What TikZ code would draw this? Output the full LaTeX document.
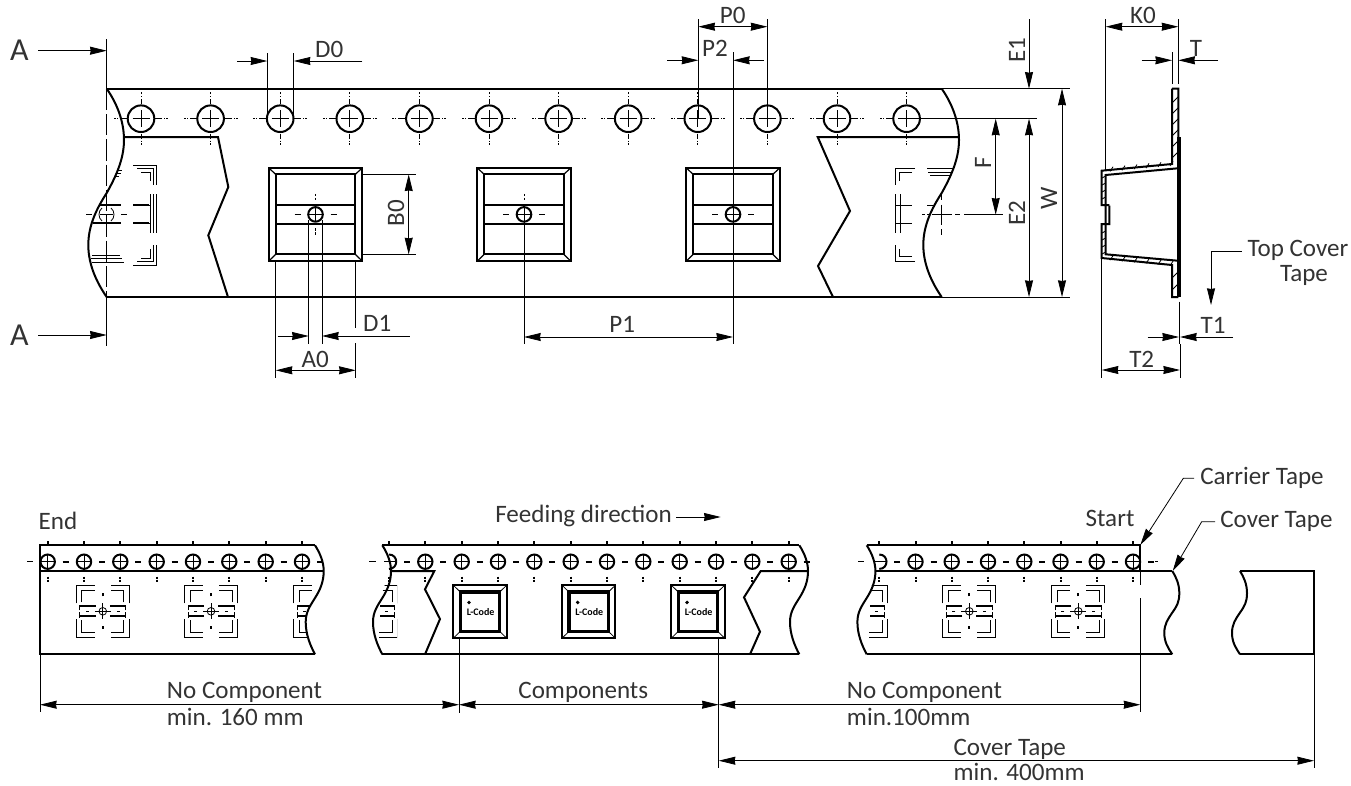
\documentclass[tikz,border=0pt]{standalone}
\usepackage{fontspec}
\usepackage{tikz}
\usetikzlibrary{arrows.meta}
\setmainfont{Carlito}
\def\largeur{1351}
\def\hauteur{785}
\tikzset{
  thinline/.style={line width=0.6pt, black},
  thickline/.style={line width=1.5pt, black},
  dimline/.style={line width=0.6pt, black, {Stealth[length=12.5pt, width=6pt, inset=0.5pt]}-{Stealth[length=12.5pt, width=6pt, inset=0.5pt]}},
  dimtip/.style={line width=0.6pt, black, -{Stealth[length=12.5pt, width=6pt, inset=0.5pt]}},
  tapelabel/.style={font=\fontsize{18.8}{20}\selectfont, text=black!80, inner sep=0pt},
  biglabel/.style={font=\fontsize{24}{26}\selectfont, text=black!80, inner sep=0pt},
}
% Perforation of the upper view.
\newcommand{\tapehole}[2]{
  \draw[thickline] (#1,#2) circle (13.3);
  \draw[thinline] (#1-8.5,#2) -- (#1+8.5,#2) (#1,#2-8.5) -- (#1,#2+8.5);
  \foreach \s in {-1,1} {
    \draw[thinline] (#1+\s*14,#2) -- (#1+\s*21,#2) (#1+\s*23,#2) -- (#1+\s*24,#2) (#1+\s*25,#2) -- (#1+\s*27,#2);
    \draw[thinline] (#1,#2+\s*15) -- (#1,#2+\s*20) (#1,#2+\s*22) -- (#1,#2+\s*23) (#1,#2+\s*24.5) -- (#1,#2+\s*26.5);
  }
}
% Perforation of the lower view.
\newcommand{\smallhole}[2]{
  \draw[thickline] (#1,#2) circle (7.2);
  \draw[thinline] (#1-7.2,#2) -- (#1+7.2,#2) (#1,#2-7.2) -- (#1,#2+7.2);
  \draw[thickline] (#1+15,#2) -- (#1+21,#2);
  \draw[thickline] (#1,#2-20.5) -- (#1,#2-17.5) (#1,#2+15) -- (#1,#2+17) (#1,#2+18) -- (#1,#2+20);
}
% Perforation cut by a torn edge.
\newcommand{\cuthole}[2]{
  \draw[thickline] (#1,#2-7.2) .. controls (#1+9.6,#2-7.2) and (#1+9.6,#2+7.2) .. (#1,#2+7.2);
  \draw[thickline] (#1+15,#2) -- (#1+21,#2);
  \draw[thickline] (#1,#2-20.5) -- (#1,#2-17.5) (#1,#2+15) -- (#1,#2+17) (#1,#2+18) -- (#1,#2+20);
}
% Empty pocket of the upper view.
\newcommand{\pocket}[2]{
  \draw[thickline] (#1-46.8,#2-46.6) rectangle (#1+46.8,#2+46.7);
  \draw[thickline] (#1-39.8,#2-40) rectangle (#1+39.8,#2+40);
  \draw[thinline, line width=0.9pt] (#1-46.8,#2-46.6) -- (#1-39.8,#2-40) (#1+46.8,#2-46.6) -- (#1+39.8,#2-40)
    (#1-46.8,#2+46.7) -- (#1-39.8,#2+40) (#1+46.8,#2+46.7) -- (#1+39.8,#2+40);
  \draw[thickline] (#1-39.8,#2-9.5) -- (#1+39.8,#2-9.5) (#1-39.8,#2+9.5) -- (#1+39.8,#2+9.5);
  \draw[thickline] (#1,#2) circle (7.3);
  \draw[thinline] (#1-7.3,#2) -- (#1+7.3,#2) (#1,#2-7.3) -- (#1,#2+7.3);
  \draw[thinline] (#1-21,#2) -- (#1-15,#2) (#1+15,#2) -- (#1+21,#2);
  \draw[thinline] (#1,#2-20.5) -- (#1,#2-18) (#1,#2-16.5) -- (#1,#2-14) (#1,#2+14) -- (#1,#2+16.5) (#1,#2+18) -- (#1,#2+20.5);
}
% Hidden pocket of the lower view.
\newcommand{\ghostpocket}[2]{
  \foreach \s in {-1,1} {
    \foreach \t in {-1,1} {
      \draw[thinline] (#1+\s*26.5,#2+\t*8) -- (#1+\s*26.5,#2+\t*26.3) -- (#1+\s*8,#2+\t*26.3);
      \draw[thinline] (#1+\s*21,#2+\t*9) -- (#1+\s*21,#2+\t*21) -- (#1+\s*8,#2+\t*21);
      \draw[thickline] (#1+\s*7,#2+\t*5) -- (#1+\s*23,#2+\t*5);
      \draw[thinline] (#1+\s*23,#2+\t*1) -- (#1+\s*23,#2+\t*6.5);
    }
    \draw[thinline] (#1+\s*14,#2) -- (#1+\s*17,#2);
    \draw[thickline] (#1,#2+\s*15) -- (#1,#2+\s*18);
  }
  \draw[thinline] (#1,#2) circle (3.8);
  \draw[thinline] (#1-8,#2) -- (#1+8,#2) (#1,#2-8) -- (#1,#2+8);
}
% Filled pocket of the lower view.
\newcommand{\chip}[2]{
  \draw[thickline] (#1-26.7,#2-26.5) rectangle (#1+26.7,#2+26.5);
  \draw[line width=2.6pt, black] (#1-19.7,#2-19.7) rectangle (#1+19.7,#2+19.7);
  \draw[thinline] (#1-26.7,#2-26.5) -- (#1-19.7,#2-19.7) (#1+26.7,#2-26.5) -- (#1+19.7,#2-19.7)
    (#1-26.7,#2+26.5) -- (#1-19.7,#2+19.7) (#1+26.7,#2+26.5) -- (#1+19.7,#2+19.7);
  \fill[black] (#1-11,#2-9.3) circle (1.9);
  \draw[black] (#1-13.5,#2) node[anchor=west, font=\fontsize{7.5}{7.5}\selectfont\bfseries, inner sep=0pt] (code#1) {L-Code};
}
% Torn edges.
\newcommand{\bigtear}[1]{
  \draw[thickline, shift={(#1,0)}] (106.7,88.7) .. controls (116,102) and (124,120) .. (124,140)
    .. controls (124,160) and (115,178) .. (106.7,193) .. controls (97,208) and (88.3,225) .. (88.3,245)
    .. controls (88.3,265) and (97,283) .. (106.7,297);
}
\newcommand{\smalltear}[1]{
  \draw[thickline, shift={(#1,0)}] (315,545.3) .. controls (320,553) and (323.7,562) .. (323.7,571)
    .. controls (323.7,582) and (320,590) .. (315,598) .. controls (310,606) and (305.7,612) .. (305.7,622)
    .. controls (305.7,634) and (310,645) .. (315,654.3);
}
\newcommand{\shorttear}[1]{
  \draw[thickline, shift={(#1,0)}] (1172.3,571) .. controls (1176,577) and (1179.3,584) .. (1179.3,593)
    .. controls (1179.3,602) and (1177,606) .. (1172,613) .. controls (1168,619) and (1164.3,624) .. (1164.3,633)
    .. controls (1164.3,642) and (1168,648) .. (1172.3,654.3);
}
\begin{document}
\begin{tikzpicture}[x=0.75pt, y=-0.75pt]
    \useasboundingbox (0,0) rectangle (\largeur,\hauteur);
    % Upper view: tape.
    \draw[thickline] (106.7,88.7) -- (941.7,88.7);
    \draw[thickline] (106.7,297) -- (941.7,297);
    \draw[thinline] (941.7,88.7) -- (1070,88.7) (941.7,297) -- (1070,297);
    \draw[thickline] (124,137) -- (218,137) -- (228.3,187) -- (208.3,235.3) -- (228,297);
    \draw[thickline] (958,137) -- (817.7,137) -- (850,211) -- (818,266) -- (833,297);
    \bigtear{0}
    \bigtear{835}
    \draw[thinline, dash pattern=on 16pt off 3pt] (106.7,88.7) -- (106.7,297);
    % Upper view: holes and pockets.
    \foreach \holex in {141,210.6,280.2,349.8,419.4,489,558.6,628.2,697.8,767.4,837,906.6} {
      \tapehole{\holex}{118.7}
    }
    \pocket{315.5}{214.4}
    \pocket{524}{214.4}
    \pocket{733}{214.4}
    % Upper view: hidden pocket on the left.
    \draw[thinline] (133,165) -- (156.7,165) -- (156.7,185) (137,168.5) -- (153.5,168.5) -- (153.5,185) (141,172) -- (150,172) -- (150,181);
    \draw[thinline] (156.7,194) -- (156.7,233) (153.5,194) -- (153.5,233) (150,194) -- (150,233) (133,205) -- (150,205) (133,223) -- (150,223);
    \draw[thickline] (133,205) -- (149,205) (133,223) -- (149,223);
    \draw[thinline] (133,265) -- (156.7,265) -- (156.7,245) (137,261.5) -- (153.5,261.5) -- (153.5,245) (141,258) -- (150,258) -- (150,249);
    \draw[thickline] (100,205) -- (121,205) (93,223) -- (121,223);
    \draw[thinline] (92,255) -- (120,255) (91,258.5) -- (122,258.5) (92,262) -- (124,262);
    \draw[thinline] (118,170) -- (122,170) (117,173) -- (121,173) (115,176) -- (119,176);
    \draw[thinline] (102,208) .. controls (98,211) and (98,218) .. (102,221);
    \draw[thinline] (111,208) .. controls (115,211) and (115,218) .. (111,221);
    \draw[thinline] (86,214.7) -- (92,214.7) (100,214.7) -- (113,214.7) (121,214.7) -- (127,214.7);
    % Upper view: hidden pocket on the right.
    \draw[thinline] (915,168) -- (895.7,168) -- (895.7,185) (912,172) -- (899,172) -- (899,181) (927,168) -- (953,168) (928,172) -- (951,172) (930,175.5) -- (950,175.5);
    \draw[thinline] (895.7,194) -- (895.7,233) (900,194) -- (900,233) (896,205) -- (912,205) (896,223) -- (912,223) (927,205) -- (934,205);
    \draw[thinline] (915,261) -- (895.7,261) -- (895.7,245) (912,256) -- (899,256) -- (899,249);
    \draw[thinline] (932,214.7) -- (951.7,214.7) (941.7,204.7) -- (941.7,224.7);
    \draw[thinline] (941.7,194) -- (941.7,200) (941.7,229) -- (941.7,235) (922,214.7) -- (925,214.7) (927,214.7) -- (929,214.7) (955,214.7) -- (960,214.7) (964,214.7) -- (1003,214.7);
    % Section: carrier wall.
    \draw[thickline] (1172,88.7) -- (1178.3,88.7) -- (1178.3,137) (1172,88.7) -- (1172,164) -- (1101.7,170.7) -- (1101.7,205) -- (1105.7,205) -- (1105.7,224)
      (1109.3,205.7) -- (1109.3,224) -- (1101.7,224) -- (1101.7,258) -- (1172,265) -- (1172,297) -- (1178.3,297);
    \draw[thickline] (1105.7,205) -- (1109.3,205) (1105.7,205) -- (1105.7,175) -- (1177.7,168.3) (1105.7,224) -- (1105.7,254.3) -- (1177.7,260.7);
    \draw[line width=2.5pt, black] (1179,137) -- (1179,297);
    \foreach \y in {97,108,119,130,141,152} {
      \draw[thinline] (1172,\y+6) -- (1178,\y);
    }
    \foreach \y in {272,284} {
      \draw[thinline] (1172,\y+6) -- (1178,\y);
    }
    \foreach \x in {1110,1122,1134,1146,1158,1170} {
      \draw[thinline] (\x,{172.2-(\x-1102)*0.093}) -- (\x+3,{167.5-(\x-1102)*0.093});
      \draw[thinline] (\x,{259.5+(\x-1102)*0.09}) -- (\x+3,{255+(\x-1102)*0.09});
    }
    \foreach \y in {176,183,190,197,231,238,245,252} {
      \draw[thinline] (1102,\y+2) -- (1105.7,\y);
    }
    % Section marks A.
    \draw[black] (19.3,50) node[biglabel] (lblAtop) {A};
    \draw[black] (19.3,335) node[biglabel] (lblAbottom) {A};
    \draw[thinline] (106.7,39) -- (106.7,88.7) (106.7,297) -- (106.7,346);
    \draw[dimtip] (38,50.7) -- (106.7,50.7);
    \draw[dimtip] (38,335) -- (106.7,335);
    % Upper view: top dimensions.
    \draw[thinline] (267.3,53) -- (267.3,118.7) (293.7,53) -- (293.7,118.7);
    \draw[dimtip] (237,61) -- (267.3,61);
    \draw[dimtip] (362.3,61) -- (293.7,61);
    \draw[black] (329.3,49) node[tapelabel] (lblDO) {D0};
    \draw[thinline] (698.3,19) -- (698.3,118.7) (767.4,19) -- (767.4,118.7) (733,52) -- (733,344);
    \draw[dimline] (698.3,26.7) -- (767.4,26.7);
    \draw[black] (732.7,15) node[tapelabel] (lblPO) {P0};
    \draw[dimtip] (667.3,60.3) -- (698.3,60.3);
    \draw[dimtip] (764,60.3) -- (733,60.3);
    \draw[black] (715,48.7) node[tapelabel] (lblPtwo) {P2};
    % Upper view: pocket dimensions.
    \draw[thinline] (362,174.4) -- (415.7,174.4) (362,254.4) -- (415.7,254.4);
    \draw[dimline] (408.7,174.4) -- (408.7,254.4);
    \draw[black] (396,213.3) node[tapelabel, rotate=90] (lblBO) {B0};
    \draw[thinline] (308.7,220) -- (308.7,344) (322,220) -- (322,344);
    \draw[dimtip] (277.7,336) -- (308.7,336);
    \draw[dimtip] (409.7,336) -- (322,336);
    \draw[black] (377.3,323) node[tapelabel] (lblDone) {D1};
    \draw[thinline] (275.7,261) -- (275.7,378) (355.7,261) -- (355.7,328) (355.7,343) -- (355.7,378);
    \draw[dimline] (275.7,370.3) -- (355.7,370.3);
    \draw[black] (315.3,359) node[tapelabel] (lblAO) {A0};
    \draw[thinline] (524,222) -- (524,344);
    \draw[dimline] (524,337) -- (733,337);
    \draw[black] (622.3,324) node[tapelabel] (lblPone) {P1};
    % Upper view: right dimensions.
    \draw[thickline, line width=1pt] (906.6,118.7) -- (1036.7,118.7);
    \draw[dimtip] (1029,19.3) -- (1029,88.7);
    \draw[dimline] (1029,118.7) -- (1029,297);
    \draw[dimline] (1062,88.7) -- (1062,297);
    \draw[dimline] (995.7,118.7) -- (995.7,214.7);
    \draw[black] (1017,50) node[tapelabel, rotate=90] (lblEone) {E1};
    \draw[black] (1017,213) node[tapelabel, rotate=90] (lblEtwo) {E2};
    \draw[black] (1049,198) node[tapelabel, rotate=90] (lblW) {W};
    \draw[black] (983,163) node[tapelabel, rotate=90] (lblF) {F};
    % Section: dimensions.
    \draw[thinline] (1105.7,19) -- (1105.7,170) (1178.3,19) -- (1178.3,84) (1172,52) -- (1172,84);
    \draw[dimline] (1105.7,26.7) -- (1178.3,26.7);
    \draw[black] (1143,15) node[tapelabel] (lblKO) {K0};
    \draw[dimtip] (1141.7,60.3) -- (1172,60.3);
    \draw[dimtip] (1218,60.3) -- (1178.3,60.3);
    \draw[black] (1196,48) node[tapelabel] (lblT) {T};
    \draw[line width=1.2pt, black] (1179.5,301.7) -- (1179.5,344);
    \draw[dimtip] (1147.7,337) -- (1179,337);
    \draw[dimtip] (1233,337) -- (1180,337);
    \draw[black] (1213,325) node[tapelabel] (lblTone) {T1};
    \draw[thinline] (1101.7,258) -- (1101.7,378) (1180,344) -- (1180,378);
    \draw[dimline] (1101.7,370) -- (1180,370);
    \draw[black] (1141.7,359) node[tapelabel] (lblTtwo) {T2};
    \draw[dimtip] (1241.7,251.7) -- (1211,251.7) -- (1211,305);
    \draw[black] (1298,250) node[tapelabel] (lblTop) {Top Cover};
    \draw[black] (1304,275) node[tapelabel] (lblTape) {Tape};
    % Lower view: tape outlines.
    \draw[thickline] (315,545.3) -- (40,545.3) -- (40,654.3) -- (315,654.3) (40,571) -- (323.5,571);
    \smalltear{0}
    \draw[thickline] (382.3,545.3) -- (799.3,545.3) (382.3,654.3) -- (799.3,654.3);
    \draw[thickline] (391.5,571) -- (434.3,571) -- (425,589.3) -- (440,619) -- (425,654.3);
    \draw[thickline] (808,571) -- (760.7,571) -- (744,597.3) -- (760,631.7) -- (750,654.3);
    \smalltear{67.3}
    \smalltear{484.3}
    \draw[thickline] (866.7,545.3) -- (1140.3,545.3) -- (1140.3,571) (876,571) -- (1172.3,571) (866.7,654.3) -- (1172.3,654.3);
    \smalltear{551.7}
    \shorttear{0}
    \shorttear{67.7}
    \draw[thickline] (1240,571) -- (1314,571) -- (1314,654.3) -- (1240,654.3);
    % Lower view: holes.
    \foreach \holex in {47.7,84,120.3,156.7,193,229.3,265.7,302,425.3,461.7,498,534.3,570.7,607,643.3,679.7,716,752.3,788.7,915.5,951.7,988,1024.3,1060.5,1096.7,1133} {
      \smallhole{\holex}{561.7}
    }
    \cuthole{389}{561.7}
    \cuthole{879.3}{561.7}
    \draw[thinline] (27,561.7) -- (33,561.7) (369,561.7) -- (376,561.7) (384,561.7) -- (396,561.7) (858,561.7) -- (864,561.7) (874,561.7) -- (886,561.7) (1148,561.7) -- (1153,561.7) (1155,561.7) -- (1158,561.7);
    % Lower view: pockets.
    \ghostpocket{102.8}{611.3}
    \ghostpocket{211}{611.3}
    \ghostpocket{969.3}{611.3}
    \ghostpocket{1078.3}{611.3}
    \chip{480}{611.7}
    \chip{588.7}{611.7}
    \chip{698}{611.7}
    % Lower view: pockets cut by the torn edges.
    \begin{scope}
      \clip (285,575) -- (320,575) .. controls (318,590) and (310,600) .. (305.7,622) .. controls (306,635) and (308,640) .. (310,645) -- (285,645) -- cycle;
      \ghostpocket{320}{611.3}
    \end{scope}
    \begin{scope}
      \clip (397,575) -- (388,575) -- (380,600) -- (380,622) -- (378,645) -- (397,645) -- cycle;
      \ghostpocket{371}{611.3}
    \end{scope}
    \begin{scope}
      \clip (890,575) -- (873,575) -- (870,600) -- (870,622) -- (863,645) -- (890,645) -- cycle;
      \ghostpocket{861}{611.3}
    \end{scope}
    % Lower view: dimensions.
    \draw[thinline] (40,654) -- (40,712) (459,636.7) -- (459,712.7) (718.7,636.7) -- (718.7,768) (1140.3,571) -- (1140.3,585) (1140.3,598) -- (1140.3,712) (1314,654) -- (1314,768);
    \draw[dimline] (40,704.7) -- (459,704.7);
    \draw[dimline] (459,704.7) -- (718.7,704.7);
    \draw[dimline] (718.7,704.7) -- (1140.3,704.7);
    \draw[dimline] (718.7,760.7) -- (1314,760.7);
    \draw[black] (166.7,692.7) node[tapelabel, anchor=west] (lblNoleft) {No Component};
    \draw[black] (166.7,716.7) node[tapelabel, anchor=west] (lblMinleft) {min. 160 mm};
    \draw[black] (583.3,692.7) node[tapelabel] (lblComp) {Components};
    \draw[black] (846.7,692.7) node[tapelabel, anchor=west] (lblNoright) {No Component};
    \draw[black] (846.7,716.7) node[tapelabel, anchor=west] (lblMinright) {min.100mm};
    \draw[black] (953.3,749) node[tapelabel, anchor=west] (lblCoverdim) {Cover Tape};
    \draw[black] (953.3,771.7) node[tapelabel, anchor=west] (lblMincover) {min. 400mm};
    % Lower view: notes.
    \draw[black] (58,520.7) node[tapelabel] (lblEnd) {End};
    \draw[black] (1110,518.3) node[tapelabel] (lblStart) {Start};
    \draw[black] (495,516) node[tapelabel, anchor=west] (lblFeed) {Feeding direction};
    \draw[dimtip] (676,517) -- (720.7,517);
    \draw[black] (1200,478.3) node[tapelabel, anchor=west] (lblCarrier) {Carrier Tape};
    \draw[black] (1220,521.7) node[tapelabel, anchor=west] (lblCover) {Cover Tape};
    \draw[dimtip] (lblCarrier.west) ++ (-6,0) -- (1183.3,478.3) -- (1140.3,545);
    \draw[dimtip] (lblCover.west) ++ (-5,0) -- (1201.7,521.7) -- (1172.7,571);
\end{tikzpicture}
\end{document}
